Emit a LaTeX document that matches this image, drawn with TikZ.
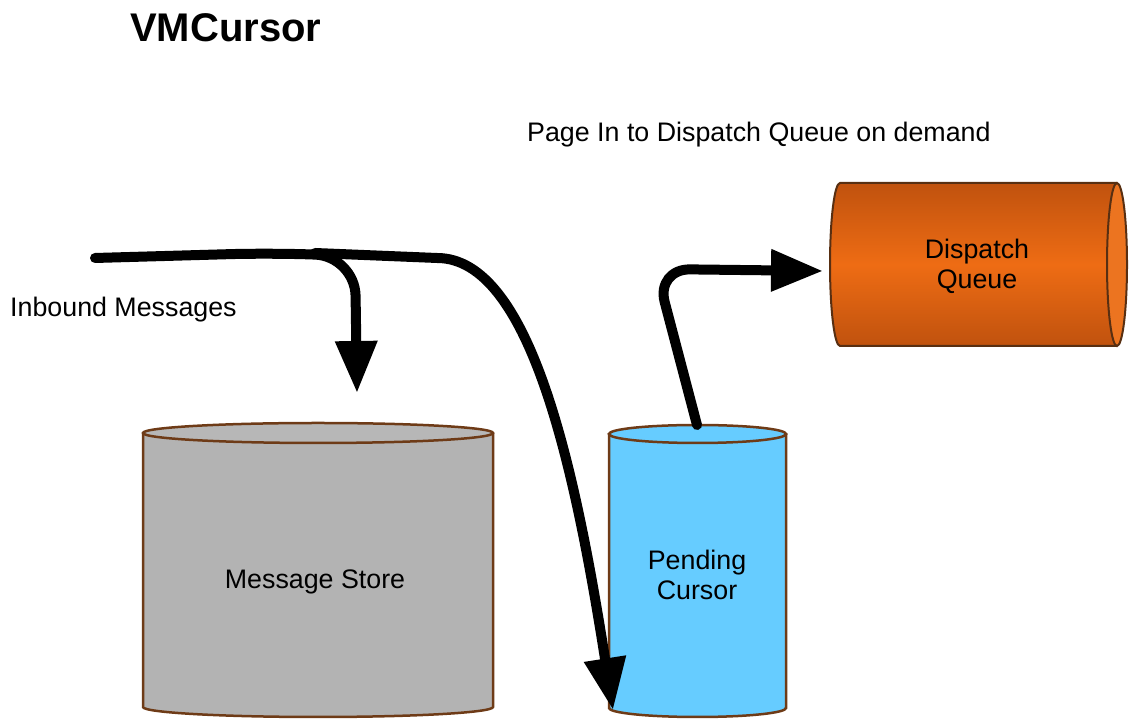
\documentclass[tikz,border=0pt]{standalone}
\usepackage{fontspec}
\setmainfont{Liberation Sans}
\usepackage{tikz}
\usetikzlibrary{arrows.meta}
\definecolor{storegray}{HTML}{B3B3B3}
\definecolor{pendblue}{HTML}{66CCFF}
\definecolor{rimbrown}{HTML}{6E3B17}
\definecolor{dqmid}{HTML}{EE6C14}
\definecolor{dqdark}{HTML}{C0520E}
\definecolor{dqend}{HTML}{EC7420}
\begin{document}
\begin{tikzpicture}[x=1pt,y=1pt,
  lbl/.style={inner sep=0pt,font=\fontsize{26.8pt}{30pt}\selectfont,align=center},
  rim/.style={draw=rimbrown,line width=2.5pt},
  flow/.style={line width=10pt,line cap=round,-{Triangle[length=52pt,width=40pt]}}]
\useasboundingbox (0,0) rectangle (1129,727);

\node[inner sep=0pt,anchor=base west,font=\fontsize{40pt}{44pt}\selectfont\bfseries] (title) at (130,685) {VMCursor};
\node[lbl,anchor=base west] (pagein) at (527,585) {Page In to Dispatch Queue on demand};
\node[lbl,anchor=base west] (inbound) at (10,410) {Inbound Messages};

\draw[rim,fill=storegray] (143,294) -- (143,20) arc[start angle=180,end angle=360,x radius=175pt,y radius=10pt] -- (493,294);
\draw[rim,fill=storegray!95!white] (318,294) ellipse[x radius=175pt,y radius=10pt];
\node[lbl] (store) at (315,145) {Message Store};

\draw[rim,fill=pendblue] (609,293) -- (609,19) arc[start angle=180,end angle=360,x radius=88.5pt,y radius=9pt] -- (786,293);
\draw[rim,fill=pendblue] (697.5,293) ellipse[x radius=88.5pt,y radius=9pt];
\node[lbl] (pending) at (697,152) {Pending\\Cursor};

\shade[top color=dqdark,bottom color=dqdark,middle color=dqmid] (840,544) -- (1117,544) arc[start angle=90,end angle=-90,x radius=10pt,y radius=81.5pt] -- (840,381) arc[start angle=270,end angle=90,x radius=10pt,y radius=81.5pt] -- cycle;
\draw[draw=rimbrown!80!black,line width=2pt] (1117,544) -- (840,544) arc[start angle=90,end angle=270,x radius=10pt,y radius=81.5pt] -- (1117,381);
\draw[draw=rimbrown!80!black,line width=2pt,fill=dqend] (1117,462.5) ellipse[x radius=10pt,y radius=81.5pt];
\node[lbl] (dispatch) at (977,461) {Dispatch\\Queue};

\coordinate (inb) at (95,469);
\coordinate (split) at (315,474);
\coordinate (storein) at (357,334);
\coordinate (pendin) at (613,17);
\coordinate (pendout) at (697,302);
\coordinate (dispin) at (823,456);

\draw[flow] (split) -- (437,469) .. controls (530,469) and (575,260) .. (pendin);
\draw[flow,rounded corners=40pt] (inb) -- (270,474) -- (355,471) -- (storein);
\draw[flow,rounded corners=34pt] (pendout) -- (656,458) -- (dispin);

\end{tikzpicture}
\end{document}
